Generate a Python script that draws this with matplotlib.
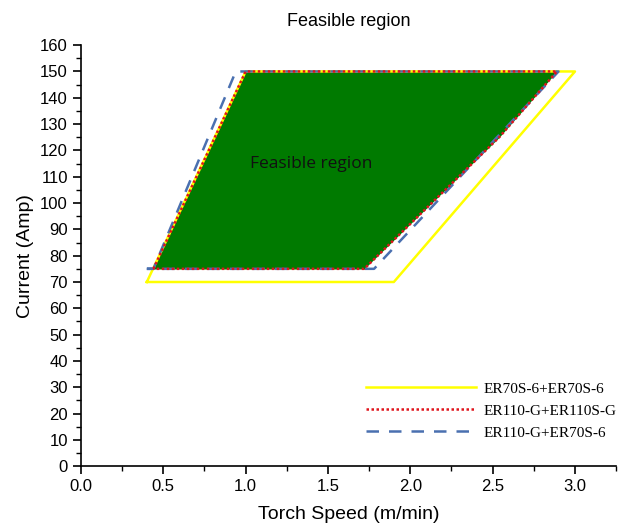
import matplotlib.pyplot as plt
from matplotlib.ticker import MultipleLocator

# boundary polygons of each filler combination (speed m/min, current A)
er70_speed = [0.40, 1.00, 3.00, 1.90, 0.40]
er70_current = [70, 150, 150, 70, 70]

er110_speed = [0.44, 1.00, 2.89, 2.54, 1.72, 0.44]
er110_current = [75, 150, 150, 125, 75, 75]

mix_speed = [0.40, 0.44, 0.94, 2.90, 1.78, 0.40]
mix_current = [75, 75, 150, 150, 75, 75]

labels = ["ER70S-6+ER70S-6", "ER110-G+ER110S-G", "ER110-G+ER70S-6"]

plt.rcParams['font.family'] = ['Liberation Sans', 'DejaVu Sans']

fig = plt.figure(figsize=(6.18, 5.25), dpi=100)
ax = fig.add_axes([0.131, 0.112, 0.866, 0.802])

# feasible region = the tightest boundary
ax.fill(er110_speed, er110_current, color="#007a00", zorder=1)

ax.plot(er70_speed, er70_current, color="#ffff00", lw=1.8, label=labels[0], zorder=2)
ax.plot(er110_speed, er110_current, color="#e0141c", lw=1.8, ls=(0, (1, 1)), label=labels[1], zorder=4)
ax.plot(mix_speed, mix_current, color="#4a70b0", lw=1.8, ls=(0, (5, 4)), label=labels[2], zorder=3)

ax.text(1.40, 115, "Feasible region", fontsize=12.5, family=["Open Sans", "DejaVu Sans"],
        ha="center", va="center", color="#111111")

ax.set_xlim(0, 3.25)
ax.set_ylim(0, 160)
ax.xaxis.set_major_locator(MultipleLocator(0.5))
ax.xaxis.set_minor_locator(MultipleLocator(0.25))
ax.yaxis.set_major_locator(MultipleLocator(10))
ax.yaxis.set_minor_locator(MultipleLocator(5))
ax.xaxis.set_major_formatter(lambda v, p: f"{v:.1f}")
ax.tick_params(which="major", direction="out", length=6, width=1.2, labelsize=12)
ax.tick_params(which="minor", direction="out", length=3.5, width=1.0)

for s in ["top", "right"]:
    ax.spines[s].set_visible(False)
for s in ["left", "bottom"]:
    ax.spines[s].set_linewidth(1.2)

ax.set_xlabel("Torch Speed (m/min)", fontsize=14, labelpad=8)
ax.set_ylabel("Current (Amp)", fontsize=14)
ax.set_title("Feasible region", fontsize=13, pad=14)

leg = ax.legend(loc="lower right", bbox_to_anchor=(1.027, 0.03), frameon=False,
                handlelength=7.2, handletextpad=0.5, labelspacing=0.55,
                prop={"family": "Liberation Serif", "size": 11})

fig.savefig("out.png", dpi=100)
